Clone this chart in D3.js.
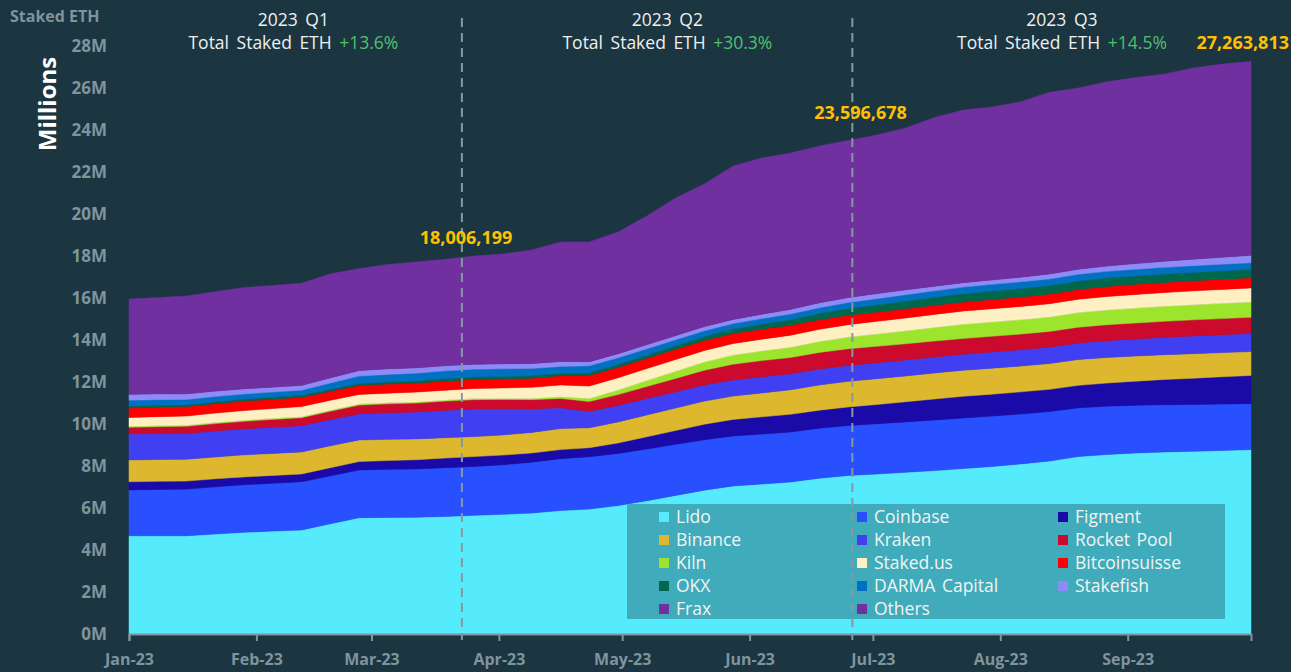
<!DOCTYPE html>
<html lang="en">
    <head>
        <meta charset="utf-8">
        <title>Staked ETH by Entity 2023</title>
        <script type="text/javascript" src="https://cdn.jsdelivr.net/npm/d3@7"></script>
        <style>
            body { margin: 0; background: #1b3541; }
            svg { display: block; }
        </style>
    </head>
    <body>
        <script type="text/javascript">
            // weekly snapshots, values in millions of ETH
            var weeks = ["2023-01-01","2023-01-08","2023-01-15","2023-01-22","2023-01-29",
                "2023-02-05","2023-02-12","2023-02-19","2023-02-26","2023-03-05","2023-03-12",
                "2023-03-19","2023-03-26","2023-04-02","2023-04-09","2023-04-16","2023-04-23",
                "2023-04-30","2023-05-07","2023-05-14","2023-05-21","2023-05-28","2023-06-04",
                "2023-06-11","2023-06-18","2023-06-25","2023-07-02","2023-07-09","2023-07-16",
                "2023-07-23","2023-07-30","2023-08-06","2023-08-13","2023-08-20","2023-08-27",
                "2023-09-03","2023-09-10","2023-09-17","2023-09-24","2023-10-01"];

            var lido = [4.68,4.68,4.68,4.76,4.84,4.90,4.95,5.25,5.54,5.55,5.56,5.60,5.65,5.70,5.76,5.88,5.95,6.12,6.35,6.60,
                6.85,7.05,7.14,7.24,7.42,7.55,7.62,7.70,7.78,7.88,7.98,8.10,8.24,8.45,8.55,8.62,8.67,8.70,8.74,8.78];
            var coinbase = [2.18,2.20,2.22,2.25,2.27,2.28,2.30,2.28,2.27,2.29,2.30,2.32,2.33,2.36,2.42,2.47,2.49,2.48,2.46,2.43,
                2.40,2.38,2.38,2.38,2.38,2.38,2.39,2.40,2.41,2.41,2.40,2.38,2.35,2.32,2.30,2.27,2.25,2.23,2.21,2.19];
            var figment = [0.39,0.39,0.38,0.38,0.37,0.37,0.37,0.39,0.40,0.42,0.44,0.46,0.47,0.46,0.44,0.43,0.43,0.50,0.58,0.66,
                0.74,0.79,0.82,0.84,0.86,0.88,0.92,0.96,1.00,1.03,1.04,1.05,1.06,1.07,1.10,1.15,1.20,1.25,1.30,1.34];
            var binance = [1.04,1.04,1.04,1.04,1.05,1.05,1.05,1.04,1.03,1.01,0.99,0.97,0.95,0.96,0.98,1.00,0.95,1.00,1.04,1.07,
                1.10,1.11,1.14,1.17,1.20,1.22,1.23,1.23,1.24,1.24,1.24,1.23,1.23,1.23,1.22,1.20,1.18,1.17,1.15,1.14];
            var kraken = [1.23,1.23,1.23,1.24,1.24,1.25,1.25,1.25,1.24,1.26,1.28,1.30,1.32,1.25,1.12,0.99,0.78,0.78,0.78,0.77,
                0.77,0.77,0.77,0.76,0.76,0.76,0.76,0.76,0.76,0.76,0.77,0.77,0.78,0.79,0.80,0.81,0.83,0.84,0.85,0.86];
            var rocketPool = [0.32,0.33,0.34,0.35,0.36,0.37,0.38,0.40,0.42,0.43,0.43,0.44,0.44,0.44,0.44,0.45,0.47,0.52,0.58,0.64,
                0.70,0.75,0.77,0.78,0.79,0.79,0.78,0.77,0.76,0.75,0.75,0.75,0.75,0.75,0.76,0.76,0.76,0.77,0.77,0.77];
            var kiln = [0.05,0.05,0.05,0.05,0.05,0.05,0.05,0.05,0.05,0.05,0.05,0.05,0.05,0.05,0.06,0.08,0.15,0.22,0.28,0.34,
                0.39,0.43,0.46,0.49,0.52,0.56,0.59,0.62,0.65,0.68,0.68,0.69,0.69,0.70,0.70,0.71,0.72,0.72,0.73,0.73];
            var stakedUs = [0.42,0.43,0.44,0.45,0.46,0.47,0.48,0.47,0.46,0.46,0.47,0.47,0.48,0.50,0.53,0.56,0.59,0.58,0.57,0.56,
                0.55,0.55,0.56,0.57,0.58,0.59,0.60,0.61,0.62,0.63,0.63,0.63,0.63,0.63,0.64,0.65,0.65,0.66,0.66,0.67];
            var bitcoinsuisse = [0.46,0.46,0.45,0.45,0.45,0.44,0.44,0.43,0.43,0.43,0.43,0.43,0.43,0.43,0.43,0.44,0.50,0.50,0.49,0.49,
                0.48,0.48,0.48,0.47,0.46,0.45,0.44,0.44,0.43,0.43,0.44,0.45,0.46,0.47,0.48,0.48,0.48,0.48,0.48,0.48];
            var okx = [0.08,0.08,0.08,0.09,0.09,0.10,0.10,0.09,0.09,0.10,0.11,0.12,0.12,0.12,0.12,0.12,0.12,0.13,0.15,0.17,
                0.19,0.21,0.24,0.27,0.30,0.32,0.35,0.37,0.38,0.39,0.40,0.40,0.40,0.40,0.40,0.40,0.40,0.40,0.40,0.40];
            var darma = [0.28,0.27,0.26,0.25,0.25,0.24,0.24,0.30,0.35,0.36,0.36,0.37,0.37,0.36,0.34,0.32,0.34,0.32,0.30,0.28,
                0.27,0.26,0.26,0.27,0.27,0.28,0.29,0.30,0.31,0.32,0.32,0.32,0.32,0.32,0.32,0.32,0.32,0.32,0.32,0.32];
            var stakefish = [0.29,0.28,0.27,0.26,0.25,0.24,0.23,0.25,0.27,0.27,0.26,0.25,0.24,0.24,0.24,0.24,0.20,0.20,0.20,0.20,
                0.20,0.20,0.21,0.22,0.23,0.24,0.24,0.23,0.22,0.21,0.21,0.22,0.23,0.24,0.25,0.27,0.29,0.31,0.33,0.35];
            var frax = [0.01,0.01,0.01,0.01,0.01,0.01,0.01,0.01,0.01,0.01,0.01,0.01,0.01,0.01,0.01,0.01,0.01,0.01,0.01,0.01,
                0.02,0.02,0.02,0.02,0.02,0.02,0.02,0.02,0.02,0.02,0.03,0.03,0.03,0.03,0.03,0.03,0.03,0.03,0.03,0.03];
            var others = [4.52,4.57,4.65,4.72,4.81,4.83,4.85,4.94,4.84,4.96,5.03,5.06,5.14,5.22,5.40,5.68,5.69,5.78,6.11,6.54,
                6.77,7.29,7.42,7.42,7.45,7.46,7.53,7.69,8.02,8.20,8.21,8.33,8.63,8.60,8.75,8.83,8.89,9.07,9.17,9.20];

            var seriesNames = ["Lido","Coinbase","Figment","Binance","Kraken","Rocket Pool","Kiln","Staked.us",
                "Bitcoinsuisse","OKX","DARMA Capital","Stakefish","Frax","Others"];
            var seriesValues = [lido, coinbase, figment, binance, kraken, rocketPool, kiln, stakedUs,
                bitcoinsuisse, okx, darma, stakefish, frax, others];
            var colors = ["#55eafc","#2850ff","#1a0aa8","#ddb72e","#4040f2","#cc0a2e","#9de52c","#fff0c4",
                "#ff0000","#00684a","#0070c0","#8c8cf8","#7030a0","#7030a0"];

            var yTicks = [0,2,4,6,8,10,12,14,16,18,20,22,24,26,28];

            var quarters = ["2023 Q1","2023 Q2","2023 Q3"];
            var quarterGrowth = ["+13.6%","+30.3%","+14.5%"];
            var quarterCenters = ["2023-02-10","2023-05-12","2023-08-16"];
            var splitDates = ["2023-03-23","2023-06-26"];
            var totalLabels = ["18,006,199","23,596,678","27,263,813"];
            var totalValues = [18.006,23.597,27.264];
            var totalDates = ["2023-03-24","2023-06-28","2023-10-01"];
            var labelLift = [12, 19, 12];

            var w = 1291;
            var h = 672;
            var parse = d3.timeParse("%Y-%m-%d");
            var font = "'Open Sans', 'Noto Sans', sans-serif";

            var rows = weeks.map(function(d, i) {
                var r = {date: parse(d)};
                seriesNames.forEach(function(n, j) { r[n] = seriesValues[j][i]; });
                return r;
            });

            var svg = d3.select("body")
                .append("svg")
                .attr("width", w)
                .attr("height", h)
                .style("background", "#1b3541");

            var xScale = d3.scaleTime()
                .domain([parse(weeks[0]), parse(weeks[weeks.length - 1])])
                .range([129, 1251]);
            var yScale = d3.scaleLinear()
                .domain([0, 28])
                .range([634, 46]);

            var stack = d3.stack().keys(seriesNames);
            var layers = stack(rows);

            var area = d3.area()
                .x(function(d) { return xScale(d.data.date); })
                .y0(function(d) { return yScale(d[0]); })
                .y1(function(d) { return yScale(d[1]); });

            svg.append("g")
                .selectAll("path")
                .data(layers)
                .enter()
                .append("path")
                .attr("d", area)
                .attr("fill", function(d, i) { return colors[i]; })
                .attr("stroke", function(d, i) { return colors[i]; })
                .attr("stroke-width", 0.5);

            // legend box
            var legend = svg.append("g");
            legend.append("rect")
                .attr("x", 627)
                .attr("y", 504)
                .attr("width", 598)
                .attr("height", 115)
                .attr("fill", "#3fabbb");
            var colX = [659, 857, 1058];
            seriesNames.forEach(function(n, i) {
                var cx = colX[i % 3];
                var cy = 517 + Math.floor(i / 3) * 23;
                legend.append("rect")
                    .attr("x", cx)
                    .attr("y", cy - 5)
                    .attr("width", 10)
                    .attr("height", 10)
                    .attr("fill", colors[i]);
                legend.append("text")
                    .text(n)
                    .attr("x", cx + 17)
                    .attr("y", cy + 6)
                    .attr("fill", "#f2f4f4")
                    .attr("font-family", font)
                    .attr("font-size", "17.5px")
                    .attr("word-spacing", "2px");
            });

            // quarter split lines
            svg.selectAll(".split")
                .data(splitDates)
                .enter()
                .append("line")
                .attr("class", "split")
                .attr("x1", function(d) { return xScale(parse(d)); })
                .attr("x2", function(d) { return xScale(parse(d)); })
                .attr("y1", 18)
                .attr("y2", 640)
                .attr("stroke", "#8499a3")
                .attr("stroke-width", 2)
                .attr("stroke-dasharray", "9,6");

            var xAxis = d3.axisBottom()
                .scale(xScale)
                .ticks(d3.timeMonth.every(1))
                .tickFormat(d3.timeFormat("%b-%y"))
                .tickSize(7)
                .tickSizeOuter(7);
            var gx = svg.append("g")
                .attr("transform", "translate(0,634)")
                .call(xAxis);
            gx.selectAll("path, line")
                .attr("stroke", "#7f949d")
                .attr("stroke-width", 2);
            gx.selectAll("text")
                .attr("fill", "#7f949d")
                .attr("font-family", font)
                .attr("font-weight", "bold")
                .attr("font-size", "16px")
                .attr("y", 20)
                .attr("dy", "0.71em");
            gx.selectAll(".tick")
                .filter(function(d) { return d > parse("2023-09-30"); })
                .remove();

            var yAxis = d3.axisLeft()
                .scale(yScale)
                .tickValues(yTicks)
                .tickFormat(function(d) { return d + "M"; })
                .tickSize(0);
            var gy = svg.append("g")
                .attr("transform", "translate(110,0)")
                .call(yAxis);
            gy.select(".domain").remove();
            gy.selectAll("text")
                .attr("fill", "#7f949d")
                .attr("font-family", font)
                .attr("font-weight", "bold")
                .attr("font-size", "17px")
                .attr("dy", "0.35em");

            svg.append("text")
                .text("Staked ETH")
                .attr("x", 10)
                .attr("y", 22)
                .attr("fill", "#7f949d")
                .attr("font-family", font)
                .attr("font-weight", "bold")
                .attr("font-size", "16px");
            svg.append("text")
                .text("Millions")
                .attr("transform", "translate(56,104) rotate(-90)")
                .attr("text-anchor", "middle")
                .attr("fill", "#ffffff")
                .attr("font-family", font)
                .attr("font-weight", "bold")
                .attr("font-size", "24px");

            quarters.forEach(function(q, i) {
                var qx = xScale(parse(quarterCenters[i]));
                svg.append("text")
                    .text(q)
                    .attr("x", qx)
                    .attr("y", 26)
                    .attr("text-anchor", "middle")
                    .attr("fill", "#eef0f0")
                    .attr("font-family", font)
                    .attr("font-size", "17.5px")
                    .attr("word-spacing", "3px");
                var t = svg.append("text")
                    .attr("x", qx)
                    .attr("y", 49)
                    .attr("text-anchor", "middle")
                    .attr("font-family", font)
                    .attr("font-size", "17.5px")
                    .attr("word-spacing", "3px");
                t.append("tspan").text("Total Staked ETH ").attr("fill", "#eef0f0");
                t.append("tspan").text(quarterGrowth[i]).attr("fill", "#52c06e");
            });

            totalLabels.forEach(function(s, i) {
                var last = i === totalLabels.length - 1;
                svg.append("text")
                    .text(s)
                    .attr("x", last ? 1289 : xScale(parse(totalDates[i])))
                    .attr("y", yScale(totalValues[i]) - labelLift[i])
                    .attr("text-anchor", last ? "end" : "middle")
                    .attr("fill", "#ffc000")
                    .attr("font-family", font)
                    .attr("font-weight", "bold")
                    .attr("font-size", "18px");
            });
        </script>
    </body>
</html>
